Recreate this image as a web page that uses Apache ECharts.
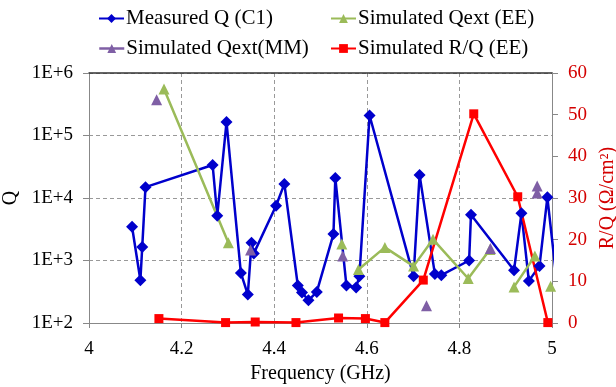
<!DOCTYPE html>
<html>
<head>
<meta charset="utf-8">
<script src="https://cdn.jsdelivr.net/npm/echarts@6/dist/echarts.min.js"></script>
<style>
html,body{margin:0;padding:0;background:#fff;}
#chart{width:616px;height:387px;}
</style>
</head>
<body>
<div id="chart"></div>
<script>
// ---- data ----
const xTicks = [4, 4.2, 4.4, 4.6, 4.8, 5];
const qTickLabels = ['1E+2', '1E+3', '1E+4', '1E+5', '1E+6'];
const rqTicks = [0, 10, 20, 30, 40, 50, 60];

const measuredFreq = [4.093, 4.111, 4.115, 4.122, 4.267, 4.277, 4.297, 4.328, 4.343, 4.351, 4.356,
  4.404, 4.422, 4.451, 4.460, 4.474, 4.492, 4.528, 4.532, 4.556, 4.577, 4.584, 4.606,
  4.701, 4.714, 4.747, 4.761, 4.821, 4.825, 4.918, 4.934, 4.950, 4.973, 4.990, 5.008];
const measuredQ = [3470, 484, 1650, 14900, 33800, 5200, 164000, 633, 285, 1920, 1300,
  7530, 16800, 398, 307, 231, 314, 2650, 20900, 398, 370, 561, 209000,
  561, 23400, 610, 582, 1000, 5400, 700, 5690, 472, 820, 10260, 650];

// null = break in the line
const qextEEFreq = [4.162, 4.301, 4.42, 4.546, 4.56, 4.582, 4.639, 4.701, 4.743, 4.819, 4.866, 4.89, 4.918, 4.963, 4.98, 4.997];
const qextEE = [553000, 1920, null, 1830, null, 719, 1620, 813, 2180, 515, 1500, null, 378, 1175, null, 388];

const qextMMFreq = [4.146, 4.349, 4.548, 4.729, 4.867, 4.968, 4.968];
const qextMM = [373000, 1466, 1175, 188, 1560, 15500, 12000];

const rqFreq = [4.151, 4.295, 4.359, 4.447, 4.539, 4.597, 4.639, 4.722, 4.831, 4.926, 4.991];
const rqEE = [1.06, 0.1, 0.24, 0.1, 1.2, 1.06, 0.1, 10.3, 50.2, 30.3, 0.1];

// ---- styling ----
const BLUE = '#0000CC', GREEN = '#9BBB59', PURPLE = '#7F5FA5', RED = '#FF0000', RED_TXT = '#D40000';
const FONT = "'Liberation Serif', 'Times New Roman', 'DejaVu Serif', serif";
const zip = (xs, ys) => xs.map((x, i) => [x, ys[i] === null ? '-' : ys[i]]);

const chart = echarts.init(document.getElementById('chart'), null, {renderer: 'canvas'});
const legendText = {fontFamily: FONT, fontSize: 21, color: '#000', padding: [0, 0, 0, -3]};
const mkLegend = (name, left, top, extra) => ({
  data: [Object.assign({name: name}, extra || {})],
  left: left, top: top, padding: 0, itemWidth: 25, itemHeight: 11, itemGap: 0,
  textStyle: legendText, selectedMode: false
});

chart.setOption({
  animation: false,
  backgroundColor: '#fff',
  grid: {left: 89, right: 64, top: 73, bottom: 64, containLabel: false, outerBoundsMode: 'none'},
  legend: [
    mkLegend('Measured Q (C1)', 98, 8),
    mkLegend('Simulated Qext (EE)', 330, 8),
    mkLegend('Simulated Qext(MM)', 98, 38, {lineStyle: {opacity: 1, width: 2.5, color: PURPLE}}),
    mkLegend('Simulated R/Q (EE)', 330, 38)
  ],
  xAxis: [{
    type: 'value', min: 4, max: 5, interval: 0.2,
    name: 'Frequency (GHz)', nameLocation: 'middle', nameGap: 41,
    nameTextStyle: {fontFamily: FONT, fontSize: 20, color: '#000'},
    axisLine: {show: true, lineStyle: {color: '#888', width: 1}},
    axisTick: {show: true, length: 5, lineStyle: {color: '#888'}},
    axisLabel: {fontFamily: FONT, fontSize: 19, color: '#000', margin: 17,
      formatter: v => String(Math.round(v * 10) / 10)},
    splitLine: {show: true, lineStyle: {color: '#999', type: [4, 3], width: 1}}
  }, {
    type: 'value', min: 4, max: 5, position: 'top',
    axisLine: {show: true, lineStyle: {color: '#333', width: 1.5}},
    axisTick: {show: false}, axisLabel: {show: false}, splitLine: {show: false}
  }],
  yAxis: [{
    type: 'log', logBase: 10, min: 100, max: 1000000,
    name: 'Q', nameLocation: 'middle', nameGap: 62, nameRotate: 90,
    nameTextStyle: {fontFamily: FONT, fontSize: 20, color: '#000'},
    axisLine: {show: true, lineStyle: {color: '#888', width: 1}},
    axisTick: {show: true, length: 6, lineStyle: {color: '#888'}},
    axisLabel: {fontFamily: FONT, fontSize: 19, color: '#000', margin: 16,
      formatter: v => qTickLabels[Math.round(Math.log10(v)) - 2]},
    splitLine: {show: true, lineStyle: {color: '#999', type: [4, 3], width: 1}}
  }, {
    type: 'value', min: rqTicks[0], max: rqTicks[rqTicks.length - 1], interval: 10, position: 'right',
    name: 'R/Q (Ω/cm²)', nameLocation: 'middle', nameGap: 44, nameRotate: 90,
    nameTextStyle: {fontFamily: FONT, fontSize: 20, color: RED_TXT},
    axisLine: {show: true, lineStyle: {color: '#888', width: 1}},
    axisTick: {show: true, length: 6, lineStyle: {color: '#888'}},
    axisLabel: {fontFamily: FONT, fontSize: 19, color: RED_TXT, margin: 16},
    splitLine: {show: false}
  }],
  series: [{
    name: 'Measured Q (C1)', type: 'line', xAxisIndex: 0, yAxisIndex: 0, clip: true,
    data: zip(measuredFreq, measuredQ),
    symbol: 'diamond', symbolSize: 12, showAllSymbol: true,
    lineStyle: {color: BLUE, width: 2.5}, itemStyle: {color: BLUE}
  }, {
    name: 'Simulated Qext (EE)', type: 'line', xAxisIndex: 0, yAxisIndex: 0, clip: true,
    data: zip(qextEEFreq, qextEE), connectNulls: false,
    symbol: 'triangle', symbolSize: 11, showAllSymbol: true,
    lineStyle: {color: GREEN, width: 2.5}, itemStyle: {color: GREEN}
  }, {
    name: 'Simulated Qext(MM)', type: 'line', xAxisIndex: 0, yAxisIndex: 0, clip: true,
    data: zip(qextMMFreq, qextMM),
    symbol: 'triangle', symbolSize: 11, showAllSymbol: true,
    lineStyle: {color: PURPLE, width: 2.5, opacity: 0}, itemStyle: {color: PURPLE}
  }, {
    name: 'Simulated R/Q (EE)', type: 'line', xAxisIndex: 0, yAxisIndex: 1, clip: true,
    data: zip(rqFreq, rqEE),
    symbol: 'rect', symbolSize: 9, showAllSymbol: true,
    lineStyle: {color: RED, width: 2.5}, itemStyle: {color: RED}
  }]
});
</script>
</body>
</html>
